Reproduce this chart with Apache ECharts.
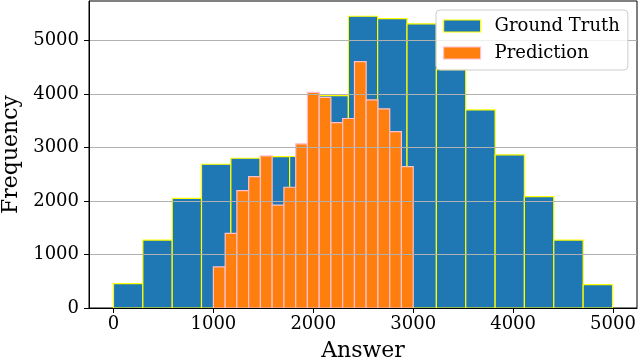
<!DOCTYPE html>
<html>
<head>
<meta charset="utf-8">
<script src="https://cdn.jsdelivr.net/npm/echarts@6/dist/echarts.min.js"></script>
<style>
  html, body { margin: 0; padding: 0; background: #fff; }
  #chart { width: 640px; height: 360px; }
</style>
</head>
<body>
<div id="chart"></div>
<script>
// bin edges and counts
const gtEdges = [0, 294, 588, 881, 1175, 1469, 1763, 2057, 2351, 2644, 2938, 3232, 3526, 3820, 4113, 4407, 4701, 4995]
const gtCounts = [457, 1268, 2049, 2685, 2797, 2828, 2830, 3968, 5449, 5406, 5307, 4451, 3700, 2860, 2079, 1268, 438]

const predEdges = [1000, 1118, 1235, 1353, 1471, 1588, 1706, 1824, 1941, 2059, 2176, 2294, 2412, 2529, 2647, 2765, 2882, 3000]
const predCounts = [768, 1393, 2191, 2453, 2841, 1923, 2255, 3066, 4026, 3933, 3464, 3539, 4601, 3889, 3721, 3296, 2640]

const xTicks = [0, 1000, 2000, 3000, 4000, 5000]

const FONT = 'DejaVu Serif'

function toBins(edges, counts) {
  return counts.map((c, i) => [edges[i], edges[i + 1], c])
}

function histRenderer(fill, stroke) {
  return function (params, api) {
    const p0 = api.coord([api.value(0), api.value(2)])
    const p1 = api.coord([api.value(1), 0])
    return {
      type: 'rect',
      shape: { x: p0[0], y: p0[1], width: p1[0] - p0[0], height: p1[1] - p0[1] },
      style: { fill, stroke, lineWidth: 1.2 },
    }
  }
}

const plain = (v) => String(v)

const chart = echarts.init(document.getElementById('chart'), null, { renderer: 'canvas' })

chart.setOption({
  animation: false,
  textStyle: { fontFamily: FONT },
  grid: {
    left: 89, right: 3, top: 1, bottom: 52,
    outerBoundsMode: 'none',
    containLabel: false,
    show: true, borderColor: '#000', borderWidth: 1, backgroundColor: 'transparent',
  },
  legend: {
    z: 8,
    orient: 'vertical',
    left: 436, top: 10,
    padding: [7, 8, 8, 7],
    itemWidth: 37, itemHeight: 12, itemGap: 9,
    backgroundColor: 'rgba(255,255,255,0.8)',
    borderColor: '#cccccc', borderWidth: 1, borderRadius: 4,
    textStyle: { fontFamily: FONT, fontSize: 18, color: '#000', lineHeight: 18, padding: [0, 0, 0, 9] },
    data: [
      { name: 'Ground Truth', icon: 'rect', itemStyle: { color: '#1f77b4', borderColor: '#ffff00', borderWidth: 1.2 } },
      { name: 'Prediction', icon: 'rect', itemStyle: { color: '#ff7f0e', borderColor: '#ffc0cb', borderWidth: 1.2 } },
    ],
  },
  xAxis: {
    type: 'value',
    min: -245, max: 5240,
    z: 5,
    name: 'Answer',
    nameLocation: 'middle',
    nameGap: 32,
    nameMoveOverlap: false,
    nameTextStyle: { fontFamily: FONT, fontSize: 22, color: '#000' },
    axisLine: { show: true, onZero: false, lineStyle: { color: '#000', width: 1 } },
    axisTick: { show: true, length: 5, customValues: xTicks, lineStyle: { color: '#000' } },
    axisLabel: { customValues: xTicks, formatter: plain, margin: 7, fontFamily: FONT, fontSize: 18, color: '#000' },
    splitLine: { show: false },
  },
  yAxis: {
    type: 'value',
    min: 0, max: 5734, interval: 1000,
    z: 5,
    name: 'Frequency',
    nameLocation: 'middle',
    nameGap: 67,
    nameMoveOverlap: false,
    nameTextStyle: { fontFamily: FONT, fontSize: 22, color: '#000' },
    axisLine: { show: true, onZero: false, lineStyle: { color: '#000', width: 1 } },
    axisTick: { show: true, length: 5, lineStyle: { color: '#000' } },
    axisLabel: { formatter: plain, showMaxLabel: false, margin: 10, fontFamily: FONT, fontSize: 18, color: '#000' },
    splitLine: { show: true, showMaxLine: false, lineStyle: { color: '#b0b0b0', width: 1 } },
  },
  series: [
    {
      name: 'Ground Truth',
      type: 'custom',
      renderItem: histRenderer('#1f77b4', '#ffff00'),
      itemStyle: { color: '#1f77b4', borderColor: '#ffff00' },
      encode: { x: [0, 1], y: 2 },
      data: toBins(gtEdges, gtCounts),
      z: 2,
    },
    {
      name: 'Prediction',
      type: 'custom',
      renderItem: histRenderer('#ff7f0e', '#ffc0cb'),
      itemStyle: { color: '#ff7f0e', borderColor: '#ffc0cb' },
      encode: { x: [0, 1], y: 2 },
      data: toBins(predEdges, predCounts),
      z: 3,
    },
  ],
})
</script>
</body>
</html>
